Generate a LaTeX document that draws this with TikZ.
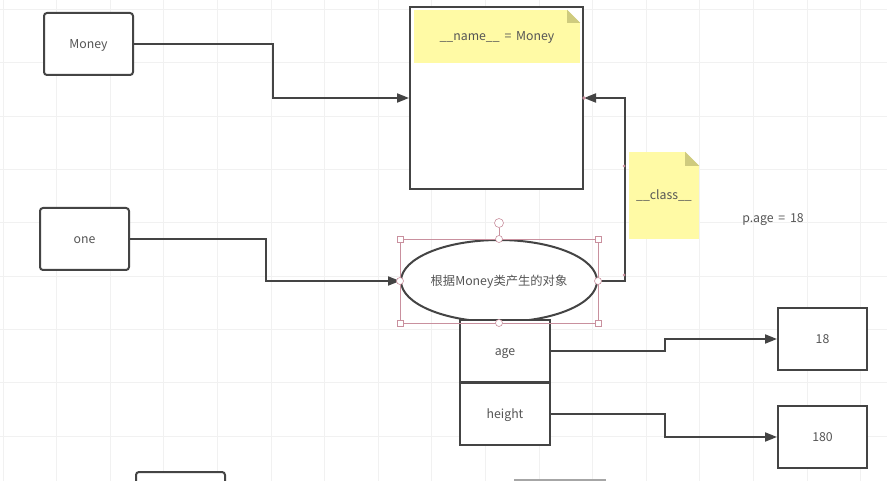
\documentclass[tikz,border=0pt]{standalone}
\usepackage{fontspec}
\newfontfamily\cjk{Noto Sans CJK SC}
\usetikzlibrary{arrows.meta,shapes.geometric,calc}
\definecolor{linegray}{HTML}{444444}
\definecolor{textgray}{HTML}{555555}
\definecolor{noteyellow}{HTML}{FFFAA5}
\definecolor{noteear}{HTML}{CFCB7E}
\definecolor{selpink}{HTML}{C9909E}
\definecolor{gridgray}{HTML}{F1F1F1}
\begin{document}
\begin{tikzpicture}[x=1pt,y=-1pt,
    every node/.style={font=\cjk\fontsize{12.3}{14}\selectfont, text=textgray,
      text height=11pt, text depth=2pt},
    box/.style={draw=linegray, line width=2pt, fill=white,
      minimum width=89pt, minimum height=62pt, inner sep=0pt},
    rbox/.style={box, rounded corners=3pt},
    note/.style={fill=noteyellow, inner sep=0pt},
    conn/.style={draw=linegray, line width=2pt,
      -{Triangle[length=12pt,width=9pt]}},
    handle/.style={draw=selpink, line width=0.6pt, fill=white, inner sep=0pt,
      text height=0pt, text depth=0pt}]
  \clip (0,0) rectangle (887,481);
  \fill[white] (0,0) rectangle (887,481);
  % grid
  \foreach \i in {0,...,16}
    \draw[gridgray, line width=0.8pt] (3+53.6*\i,0) -- (3+53.6*\i,481);
  \foreach \j in {0,...,8}
    \draw[gridgray, line width=0.8pt] (0,9.5+53.3*\j) -- (887,9.5+53.3*\j);

  \node[rbox] (money) at (88.5,44) {Money};
  \node[rbox] (one) at (84.5,239) {one};
  \node[box, minimum width=173pt, minimum height=182pt] (classbox) at (496.5,98) {};
  \node[note, minimum width=166pt, minimum height=53pt] (namenote) at (497,36.5)
    {\_\_name\_\_ \,=\, Money};
  \fill[white] (namenote.north east) -- ++(-13,0) -- ++(13,13) -- cycle;
  \fill[noteear] ($(namenote.north east)+(-13,0)$) -- ++(0,13) -- ++(13,0) -- cycle;
  \node[note, minimum width=70pt, minimum height=87pt] (classnote) at (664,195.5)
    {\_\_class\_\_};
  \fill[white] (classnote.north east) -- ++(-14,0) -- ++(14,14) -- cycle;
  \fill[noteear] ($(classnote.north east)+(-14,0)$) -- ++(0,14) -- ++(14,0) -- cycle;
  \node (pagetext) at (773,218) {p.age \,=\, 18};

  \node[ellipse, draw=linegray, line width=2pt, fill=white, minimum width=196pt,
    minimum height=82pt, inner sep=0pt] (obj) at (499,281) {根据Money类产生的对象};
  \node[box, minimum width=90pt] (age) at (505,351) {age};
  \node[box, minimum width=90pt] (height) at (505,414) {height};
  \node[box] (v18) at (822.5,339) {18};
  \node[box] (v180) at (822.5,437) {180};
  \node[rbox] (nextbox) at (180.5,503) {};
  \node[draw=gray!70, line width=2pt, minimum width=90pt, minimum height=40pt,
    inner sep=0pt] (nextgray) at (560,500) {};

  % connectors
  \draw[conn] (money.east) -- ++(139,0) |- (classbox.west);
  \draw[conn] (one.east) -- ++(136,0) |- (obj.west);
  \draw[conn] (obj.east) -- ++(27,0) |- (classbox.east);
  \draw[conn] (age.east) -- ++(114,0) |- (v18.west);
  \draw[conn] (height.east) -- ++(114,0) |- (v180.west);
  \fill[selpink] (classbox.east) circle (1.8);
  \fill[selpink] (624,166) circle (1.5);
  \fill[selpink] (624,275) circle (1.5);

  % selection handles
  \draw[selpink, line width=0.6pt] (obj.west |- obj.north) rectangle (obj.east |- obj.south);
  \node[handle, circle, minimum size=9pt] (rot) at (499,223) {};
  \draw[selpink, line width=0.8pt] (rot) -- (obj.north);
  \foreach \a in {west,east}
    \foreach \b in {north,south}
      \node[handle, minimum size=6pt] (h-\a-\b) at (obj.\a |- obj.\b) {};
  \foreach \a in {north,south,east,west}
    \node[handle, circle, minimum size=7pt] (m-\a) at (obj.\a) {};
\end{tikzpicture}
\end{document}
